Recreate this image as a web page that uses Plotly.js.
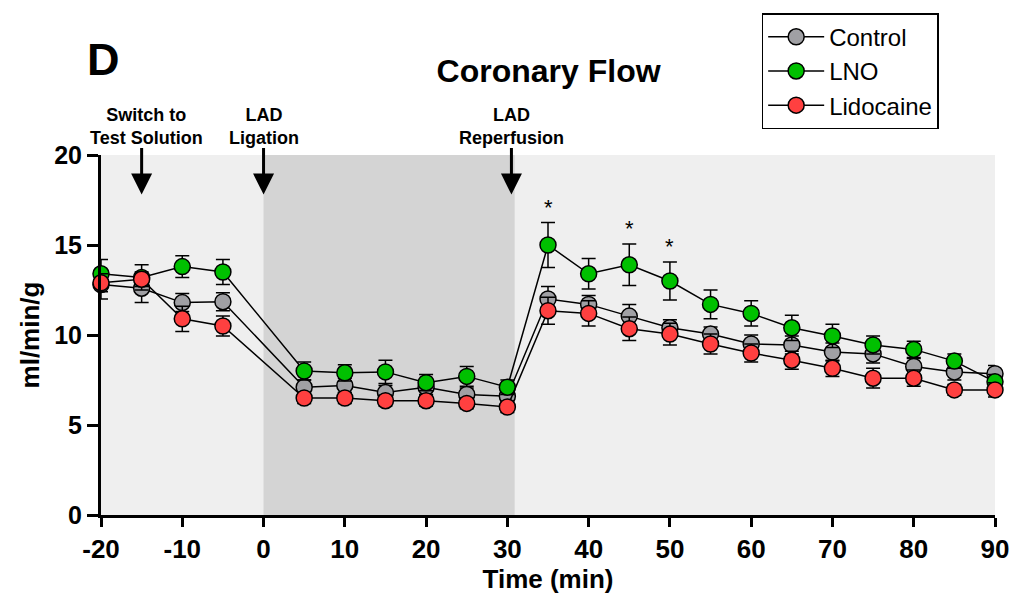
<!DOCTYPE html>
<html><head><meta charset="utf-8">
<script src="https://cdn.plot.ly/plotly-3.0.1.min.js"></script>
<style>body{margin:0;background:#fff}#chart{width:1014px;height:599px}</style>
</head><body><div id="chart"></div>
<script>
const timeMin = [-20,-15,-10,-5,5,10,15,20,25,30,35,40,45,50,55,60,65,70,75,80,85,90];
const controlMean = [12.8,12.6,11.8,11.85,7.1,7.2,6.8,7.1,6.7,6.6,12.0,11.7,11.05,10.4,10.05,9.5,9.45,9.05,8.95,8.25,7.95,7.85];
const controlSem  = [0.8,0.8,0.5,0.5,0.4,0.4,0.4,0.4,0.35,0.35,0.7,0.5,0.65,0.45,0.4,0.5,0.5,0.5,0.5,0.45,0.45,0.45];
const lnoMean = [13.4,13.2,13.8,13.5,8.0,7.9,7.95,7.35,7.7,7.1,15.0,13.4,13.9,13.0,11.7,11.2,10.4,9.95,9.45,9.2,8.55,7.4];
const lnoSem  = [0.8,0.7,0.6,0.7,0.5,0.45,0.65,0.45,0.55,0.4,1.25,0.85,1.15,1.05,0.8,0.7,0.7,0.65,0.5,0.45,0.4,0.4];
const lidoMean = [12.9,13.1,10.9,10.5,6.5,6.5,6.35,6.35,6.2,6.0,11.35,11.2,10.35,10.05,9.5,9.0,8.6,8.15,7.6,7.6,6.95,6.95];
const lidoSem  = [0.5,0.4,0.7,0.55,0.3,0.3,0.3,0.3,0.3,0.3,0.75,0.7,0.65,0.6,0.55,0.5,0.5,0.45,0.55,0.45,0.3,0.4];
const seriesNames = ['Control','LNO','Lidocaine'];
const seriesColors = ['#a0a0a4','#00c000','#ff4040'];
const eventX = [-15, 0, 30.5];
const eventLabels = ['Switch to<br>Test Solution','LAD<br>Ligation','LAD<br>Reperfusion'];
const starX = [35, 45, 50];
const xTicks = [-20,-10,0,10,20,30,40,50,60,70,80,90];
const yTicks = [0,5,10,15,20];
const ischemiaStart = 0, ischemiaEnd = 30.9;

const means = [controlMean, lnoMean, lidoMean];
const sems = [controlSem, lnoSem, lidoSem];
const F = 'Liberation Sans, Arial, sans-serif';

const traces = seriesNames.map((n,i)=>({
  type:'scatter', mode:'lines+markers', name:n,
  x: timeMin, y: means[i],
  line:{color:'#000', width:1.5},
  marker:{size:16, color:seriesColors[i], line:{color:'#000', width:1.5}},
  error_y:{type:'data', array:sems[i], visible:true, color:'#000', thickness:1.5, width:7},
  cliponaxis:false
}));

const annotations = [];
eventX.forEach((x,i)=>{
  annotations.push({x:x, y:17.8, xref:'x', yref:'y', text:'', showarrow:true,
    ax:0, ay:-48, arrowhead:2, arrowsize:1.4, arrowwidth:3, arrowcolor:'#000'});
  annotations.push({x:(i===0? -14.4 : x), y:1.0, xref:'x', yref:'paper', yanchor:'bottom', yshift:5,
    text:eventLabels[i], showarrow:false, align:'center',
    font:{family:F, size:18, weight:'bold', color:'#000'}});
});
starX.forEach((x,i)=>{
  const idx = timeMin.indexOf(x);
  annotations.push({x:x, y:lnoMean[idx]+lnoSem[idx], xref:'x', yref:'y', yanchor:'bottom', yshift:1,
    text:'*', showarrow:false, font:{family:F, size:22, color:'#000'}});
});
annotations.push({x:-20, y:1, xref:'x', yref:'paper', xanchor:'left', yanchor:'bottom', xshift:-16, yshift:68,
  text:'D', showarrow:false, font:{family:F, size:45, weight:'bold', color:'#000'}});

const layout = {
  width:1014, height:599,
  margin:{l:101, r:19, t:155, b:84},
  paper_bgcolor:'#fff', plot_bgcolor:'#efefef',
  title:{text:'Coronary Flow', x:0.541, xanchor:'center', y:0.882, yanchor:'middle',
    font:{family:F, size:32, weight:'bold', color:'#000'}},
  showlegend:true,
  legend:{x:0.739, y:1.394, xanchor:'left', yanchor:'top', bgcolor:'#fff',
    bordercolor:'#000', borderwidth:1.5, font:{family:F, size:24, color:'#000'},
    tracegroupgap:0, itemwidth:56},
  xaxis:{range:[-20,90], tickvals:xTicks, ticktext:xTicks.map(String), showgrid:false, zeroline:false,
    showline:true, linecolor:'#000', linewidth:3, ticks:'outside', ticklen:9, tickwidth:3, tickcolor:'#000',
    tickfont:{family:F, size:26, weight:'bold', color:'#000'},
    title:{text:'Time (min)', standoff:6, font:{family:F, size:26, weight:'bold', color:'#000'}}},
  yaxis:{range:[0,20], tickvals:yTicks, showgrid:false, zeroline:false,
    showline:true, linecolor:'#000', linewidth:3, ticks:'outside', ticklen:11, tickwidth:3, tickcolor:'#000',
    tickfont:{family:F, size:25, weight:'bold', color:'#000'},
    title:{text:'ml/min/g', standoff:8, font:{family:F, size:26, weight:'bold', color:'#000'}}},
  shapes:[{type:'rect', xref:'x', yref:'y', x0:ischemiaStart, x1:ischemiaEnd, y0:0, y1:20,
    fillcolor:'#d4d4d4', line:{width:0}, layer:'below'}],
  annotations:annotations
};
Plotly.newPlot('chart', traces, layout, {displayModeBar:false, staticPlot:true});
</script></body></html>
